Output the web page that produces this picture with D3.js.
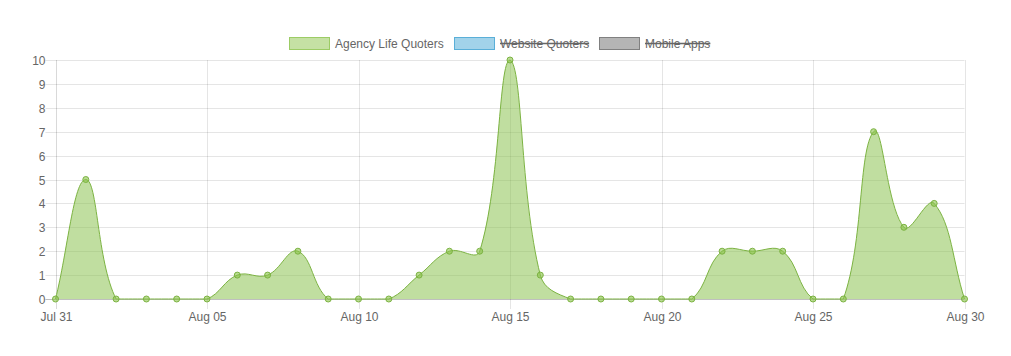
<!DOCTYPE html>
<html><head><meta charset="utf-8">
<script src="https://cdn.jsdelivr.net/npm/d3@7"></script>
<style>body{margin:0;background:#fff;}svg{display:block;}text{font-family:"Liberation Sans",Arial,Helvetica,sans-serif;}</style>
</head><body><svg id="c" width="1011" height="356"></svg>
<script>
const dates = ["2017-07-31","2017-08-01","2017-08-02","2017-08-03","2017-08-04","2017-08-05","2017-08-06","2017-08-07","2017-08-08","2017-08-09","2017-08-10","2017-08-11","2017-08-12","2017-08-13","2017-08-14","2017-08-15","2017-08-16","2017-08-17","2017-08-18","2017-08-19","2017-08-20","2017-08-21","2017-08-22","2017-08-23","2017-08-24","2017-08-25","2017-08-26","2017-08-27","2017-08-28","2017-08-29","2017-08-30"];
const agencyLife = [0,5,0,0,0,0,1,1,2,0,0,0,1,2,2,10,1,0,0,0,0,0,2,2,2,0,0,7,3,4,0];
const seriesNames = ["Agency Life Quoters","Website Quoters","Mobile Apps"];
const seriesHidden = [false,true,true];
const xTickDates = ["2017-07-31","2017-08-05","2017-08-10","2017-08-15","2017-08-20","2017-08-25","2017-08-30"];
const xTickLabels = ["Jul 31","Aug 05","Aug 10","Aug 15","Aug 20","Aug 25","Aug 30"];
const yTicks = [0,1,2,3,4,5,6,7,8,9,10];

const fills = ["rgba(139,195,74,0.5)","rgba(100,181,220,0.6)","rgba(120,120,120,0.55)"];
const strokes = ["#9ccc65","#5aafd8","#808080"];

const parse = d3.timeParse("%Y-%m-%d");
const svg = d3.select("#c");
const L=55.5, R=964.5, T=60, B=299;
const x = d3.scaleTime().domain([parse(dates[0]), parse(dates[dates.length-1])]).range([L,R]);
const y = d3.scaleLinear().domain([0,10]).range([B,T]);

const g = svg.append("g");
// vertical grid
xTickDates.forEach((d,i)=>{
  const xx = Math.round(x(parse(d)))+0.5;
  g.append("line").attr("x1",xx).attr("x2",xx).attr("y1",T).attr("y2",B+10)
   .attr("stroke", i===0?"rgba(0,0,0,0.15)":"rgba(0,0,0,0.1)").attr("stroke-width",1);
  g.append("text").attr("x",xx).attr("y",B+22).attr("text-anchor","middle")
   .attr("font-size",12).attr("fill","#666").text(xTickLabels[i]);
});
// horizontal grid
yTicks.forEach(t=>{
  const yy = Math.round(y(t))+0.5;
  g.append("line").attr("x1",L-10).attr("x2",R).attr("y1",yy).attr("y2",yy)
   .attr("stroke", t===0?"rgba(0,0,0,0.25)":"rgba(0,0,0,0.1)").attr("stroke-width",1);
  g.append("text").attr("x",L-10).attr("y",yy).attr("dy","0.35em").attr("text-anchor","end")
   .attr("font-size",12).attr("fill","#666").text(t);
});

// Chart.js-like spline
const pts = dates.map((d,i)=>[x(parse(d)), y(agencyLife[i])]);
function ctrl(pts,t){
  return pts.map((p,i)=>{
    const pr = pts[i-1]||p, nx = pts[i+1]||p;
    const d01=Math.hypot(p[0]-pr[0],p[1]-pr[1]), d12=Math.hypot(nx[0]-p[0],nx[1]-p[1]);
    let s01=d01/(d01+d12), s12=d12/(d01+d12);
    if(isNaN(s01))s01=0; if(isNaN(s12))s12=0;
    const fa=t*s01, fb=t*s12;
    const clampY=v=>Math.max(T,Math.min(B,v));
    return {prev:[p[0]-fa*(nx[0]-pr[0]), clampY(p[1]-fa*(nx[1]-pr[1]))],
            next:[p[0]+fb*(nx[0]-pr[0]), clampY(p[1]+fb*(nx[1]-pr[1]))]};
  });
}
const cp = ctrl(pts,0.4);
const path = d3.path();
path.moveTo(pts[0][0],pts[0][1]);
for(let i=1;i<pts.length;i++){
  path.bezierCurveTo(cp[i-1].next[0],cp[i-1].next[1],cp[i].prev[0],cp[i].prev[1],pts[i][0],pts[i][1]);
}
const lineD = path.toString();
const areaD = lineD + `L${pts[pts.length-1][0]},${y(0)}L${pts[0][0]},${y(0)}Z`;
svg.append("path").attr("d",areaD).attr("fill","rgba(135,192,72,0.52)");
svg.append("path").attr("d",lineD).attr("fill","none").attr("stroke","#7cb342").attr("stroke-width",1);
svg.selectAll("circle.pt").data(pts).enter().append("circle").attr("class","pt")
  .attr("cx",d=>d[0]).attr("cy",d=>d[1]).attr("r",3)
  .attr("fill","rgba(139,195,74,0.6)").attr("stroke","#7cb342").attr("stroke-width",1);

// legend
const legendX = [289,454,599];
seriesNames.forEach((n,i)=>{
  const lg = svg.append("g");
  lg.append("rect").attr("x",legendX[i]+0.5).attr("y",37.5).attr("width",40).attr("height",12)
    .attr("fill",fills[i]).attr("stroke",strokes[i]).attr("stroke-width",1);
  const tx = lg.append("text").attr("x",legendX[i]+46).attr("y",43.5).attr("dy","0.35em")
    .attr("font-size",12).attr("fill","#666").text(n);
  if(seriesHidden[i]){
    const w = tx.node().getComputedTextLength();
    lg.append("line").attr("x1",legendX[i]+46).attr("x2",legendX[i]+46+w).attr("y1",43.5).attr("y2",43.5)
      .attr("stroke","#666").attr("stroke-width",1.5);
  }
});
</script></body></html>
